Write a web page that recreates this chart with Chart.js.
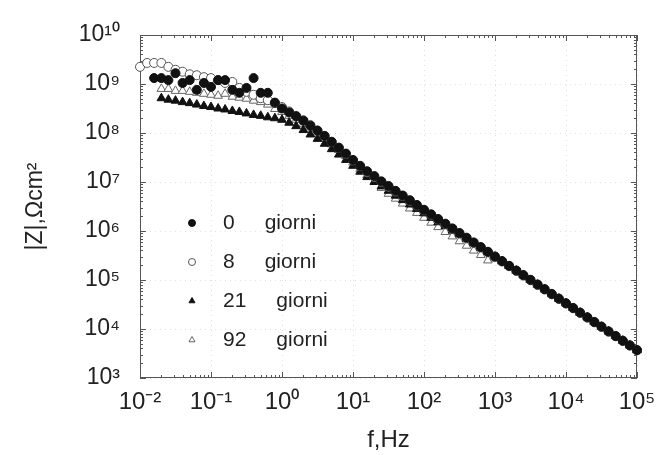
<!DOCTYPE html>
<html>
<head>
<meta charset="utf-8">
<script src="https://cdn.jsdelivr.net/npm/chart.js@4"></script>
<style>
  body { margin: 0; background: #fff; }
</style>
</head>
<body>
<canvas id="bode" width="657" height="455"></canvas>
<script>
// frequency, Hz (10 points per decade)
const freqs = [
  0.01, 0.0126, 0.0158, 0.02, 0.0251, 0.0316, 0.0398, 0.0501, 0.0631, 0.0794,
  0.1, 0.126, 0.158, 0.2, 0.251, 0.316, 0.398, 0.501, 0.631, 0.794,
  1, 1.26, 1.58, 2, 2.51, 3.16, 3.98, 5.01, 6.31, 7.94,
  10, 12.6, 15.8, 20, 25.1, 31.6, 39.8, 50.1, 63.1, 79.4,
  100, 126, 158, 200, 251, 316, 398, 501, 631, 794,
  1000, 1260, 1580, 2000, 2510, 3160, 3980, 5010, 6310, 7940,
  10000, 12600, 15800, 20000, 25100, 31600, 39800, 50100, 63100, 79400,
  100000
];

// |Z|, ohm cm2
const z0 = [
  null, null, 1.32e9, 1.32e9, 1.20e9, 1.66e9, 1.05e9, 1.20e9, 7.59e8, 1.05e9,
  8.71e8, 1.20e9, 1.20e9, 7.59e8, 6.61e8, 8.32e8, 1.32e9, 6.61e8, 6.61e8, 4.17e8,
  3.16e8, 2.63e8, 2.19e8, 1.78e8, 1.41e8, 1.12e8, 8.71e7, 6.61e7, 5.01e7, 3.80e7,
  2.82e7, 2.14e7, 1.66e7, 1.32e7, 1.03e7, 8.3e6, 6.6e6, 5.3e6, 4.25e6, 3.4e6,
  2.72e6, 2.19e6, 1.76e6, 1.41e6, 1.13e6, 9.1e5, 7.3e5, 5.85e5, 4.7e5, 3.77e5,
  3.02e5, 2.43e5, 1.95e5, 1.56e5, 1.26e5, 1.01e5, 8.1e4, 6.5e4, 5.2e4, 4.17e4,
  3.35e4, 2.69e4, 2.16e4, 1.73e4, 1.39e4, 1.12e4, 8.95e3, 7.2e3, 5.77e3, 4.63e3,
  3.72e3
];
const z8 = [
  2.24e9, 2.69e9, 2.69e9, 2.69e9, 2.24e9, 1.95e9, 1.78e9, 1.58e9, 1.51e9, 1.38e9,
  1.32e9, 1.20e9, 1.05e9, 1.10e9, 8.32e8, 6.92e8, 6.03e8, 5.13e8, 4.68e8, 4.07e8,
  3.39e8, 2.75e8, 2.24e8, 1.82e8, 1.45e8, 1.12e8, 8.71e7, 6.61e7, 5.01e7, 3.72e7,
  2.75e7, 2.09e7, 1.58e7, 1.26e7, 1.0e7, 8.0e6, 6.4e6, 5.15e6, 4.15e6, 3.3e6,
  2.66e6, 2.14e6, 1.72e6, 1.38e6, 1.11e6, 8.9e5, 7.1e5, 5.7e5, 4.6e5, 3.7e5,
  2.96e5, 2.38e5, 1.91e5, 1.53e5, 1.23e5, 9.9e4, 7.9e4, 6.4e4, 5.1e4, 4.1e4,
  3.3e4, 2.65e4, 2.13e4, 1.71e4, 1.37e4, 1.1e4, 8.8e3, 7.1e3, 5.7e3, 4.6e3,
  3.68e3
];
const z21 = [
  null, null, null, 5.13e8, 4.79e8, 4.57e8, 4.27e8, 4.07e8, 3.80e8, 3.55e8,
  3.39e8, 3.16e8, 3.02e8, 2.82e8, 2.69e8, 2.51e8, 2.34e8, 2.24e8, 2.09e8, 2.00e8,
  1.86e8, 1.62e8, 1.38e8, 1.15e8, 9.33e7, 7.59e7, 6.03e7, 4.68e7, 3.63e7, 2.82e7,
  2.14e7, 1.62e7, 1.26e7, 1.00e7, 8.13e6, 6.61e6, 5.25e6, 4.27e6, 3.47e6, 2.82e6,
  2.29e6, 1.86e6, 1.51e6, 1.26e6, 1.02e6, 8.51e5, 6.92e5, 5.62e5, 4.57e5, 3.7e5,
  2.98e5, 2.4e5, 1.93e5, 1.55e5, 1.24e5, 1.0e5, 8.0e4, 6.45e4, 5.15e4, 4.15e4,
  3.33e4, 2.68e4, 2.15e4, 1.72e4, 1.38e4, 1.11e4, 8.9e3, 7.15e3, 5.75e3, 4.6e3,
  3.7e3
];
const z92 = [
  null, null, null, 7.94e8, 7.94e8, 7.24e8, 7.24e8, 6.92e8, 6.61e8, 6.31e8,
  6.03e8, 5.75e8, 6.31e8, 5.50e8, 5.25e8, 5.01e8, 4.57e8, 4.27e8, 3.80e8, 3.09e8,
  2.69e8, 2.24e8, 1.86e8, 1.51e8, 1.23e8, 9.77e7, 7.59e7, 5.89e7, 4.47e7, 3.39e7,
  2.51e7, 1.86e7, 1.38e7, 1.02e7, 7.59e6, 5.75e6, 4.57e6, 3.63e6, 2.88e6, 2.34e6,
  1.86e6, 1.48e6, 1.20e6, 9.55e5, 7.76e5, 6.17e5, 5.01e5, 3.98e5, 3.24e5, 2.51e5,
  2.75e5, 2.4e5, 1.93e5, 1.55e5, 1.25e5, 1.0e5, 8.05e4, 6.45e4, 5.2e4, 4.15e4,
  3.34e4, 2.68e4, 2.15e4, 1.73e4, 1.39e4, 1.11e4, 8.9e3, 7.2e3, 5.77e3, 4.62e3,
  3.71e3
];

const seriesNames = ["0", "8", "21", "92"];
const unitWord = "giorni";

const xTicks = [1e-2, 1e-1, 1e0, 1e1, 1e2, 1e3, 1e4, 1e5];
const xTickLabels = ["10⁻²", "10⁻¹", "10⁰", "10¹", "10²", "10³", "10⁴", "10⁵"];
const yTicks = [1e3, 1e4, 1e5, 1e6, 1e7, 1e8, 1e9, 1e10];
const yTickLabels = ["10³", "10⁴", "10⁵", "10⁶", "10⁷", "10⁸", "10⁹", "10¹⁰"];

const FONT = '"Liberation Sans", Arial, sans-serif';

function pts(arr){
  return freqs.map((f, i) => ({x: f, y: arr[i]})).filter(p => p.y != null);
}

// inner frame with little inward ticks on all four sides
const framePlugin = {
  id: "frame",
  beforeDatasetsDraw(chart){
    const {ctx, chartArea: a, scales} = chart;
    ctx.save();
    ctx.strokeStyle = "#555";
    ctx.lineWidth = 1;
    ctx.strokeRect(a.left + 0.5, a.top + 0.5, a.width - 1, a.height - 1);
    ctx.beginPath();
    for (let d = -2; d <= 5; d++){
      for (let m = 1; m <= 9; m++){
        const v = m * Math.pow(10, d);
        if (v > 1e5) break;
        const x = Math.round(scales.x.getPixelForValue(v)) + 0.5;
        const len = m === 1 ? 6 : 3;
        ctx.moveTo(x, a.bottom); ctx.lineTo(x, a.bottom - len);
        ctx.moveTo(x, a.top); ctx.lineTo(x, a.top + len);
      }
    }
    for (let d = 3; d <= 10; d++){
      for (let m = 1; m <= 9; m++){
        const v = m * Math.pow(10, d);
        if (v > 1e10) break;
        const y = Math.round(scales.y.getPixelForValue(v)) + 0.5;
        const len = m === 1 ? 6 : 3;
        ctx.moveTo(a.left, y); ctx.lineTo(a.left + len, y);
        ctx.moveTo(a.right, y); ctx.lineTo(a.right - len, y);
      }
    }
    ctx.stroke();
    ctx.restore();
  }
};

// legend inside the plot, lower left
const legendPlugin = {
  id: "giorniLegend",
  afterDatasetsDraw(chart){
    const {ctx, chartArea: a} = chart;
    ctx.save();
    ctx.font = "21px " + FONT;
    ctx.textBaseline = "middle";
    chart.data.datasets.forEach((ds, i) => {
      const y = a.top + 188 + i * 39;
      ctx.save();
      ctx.fillStyle = ds.backgroundColor;
      ctx.strokeStyle = ds.borderColor;
      ctx.lineWidth = 1;
      Chart.helpers.drawPoint(ctx, {pointStyle: ds.pointStyle, radius: 3.5, borderWidth: 1, rotation: 0}, a.left + 52, y);
      ctx.restore();
      ctx.fillStyle = "#222";
      const nx = a.left + 83;
      ctx.fillText(seriesNames[i], nx, y);
      const w = ctx.measureText(seriesNames[i]).width;
      ctx.fillText(unitWord, nx + w + 30, y);
    });
    ctx.restore();
  }
};

new Chart(document.getElementById("bode").getContext("2d"), {
  type: "scatter",
  data: {
    datasets: [
      { label: seriesNames[0], data: pts(z0), pointStyle: "circle", pointRadius: 4.5,
        backgroundColor: "#111", borderColor: "#111", borderWidth: 1, clip: false },
      { label: seriesNames[1], data: pts(z8), pointStyle: "circle", pointRadius: 4.5,
        backgroundColor: "#fff", borderColor: "#555", borderWidth: 1, clip: false },
      { label: seriesNames[2], data: pts(z21), pointStyle: "triangle", pointRadius: 5,
        backgroundColor: "#111", borderColor: "#111", borderWidth: 1, clip: false },
      { label: seriesNames[3], data: pts(z92), pointStyle: "triangle", pointRadius: 5,
        backgroundColor: "#fff", borderColor: "#666", borderWidth: 1, clip: false }
    ]
  },
  options: {
    responsive: false,
    animation: false,
    devicePixelRatio: 1,
    layout: { padding: { top: 35, right: 20, left: 0, bottom: 0 } },
    plugins: { legend: { display: false }, tooltip: { enabled: false } },
    scales: {
      x: {
        type: "logarithmic", min: 1e-2, max: 1e5,
        afterBuildTicks: s => { s.ticks = xTicks.map(v => ({value: v})); },
        afterFit: s => { s.height = 77; s.paddingLeft = 0; s.paddingRight = 0; },
        grid: { color: "rgba(0,0,0,0.12)", drawTicks: false },
        border: { display: false, dash: [1, 4] },
        ticks: { autoSkip: false, maxRotation: 0, padding: 10, color: "#222",
          font: { family: FONT, size: 24 },
          callback: (v, i) => xTickLabels[i] },
        title: { display: true, text: "f,Hz", color: "#222",
          font: { family: FONT, size: 24 }, padding: { top: 0, bottom: 0 } }
      },
      y: {
        type: "logarithmic", min: 1e3, max: 1e10,
        afterBuildTicks: s => { s.ticks = yTicks.map(v => ({value: v})); },
        afterFit: s => { s.width = 140; s.paddingTop = 0; s.paddingBottom = 0; },
        grid: { color: "rgba(0,0,0,0.12)", drawTicks: false },
        border: { display: false, dash: [1, 4] },
        ticks: { autoSkip: false, padding: 20, color: "#222",
          font: { family: FONT, size: 23 },
          callback: (v, i) => yTickLabels[i] },
        title: { display: true, text: "|Z|,Ωcm²", color: "#222",
          font: { family: FONT, size: 23 }, padding: { top: 22, bottom: 0 } }
      }
    }
  },
  plugins: [framePlugin, legendPlugin]
});
</script>
</body>
</html>
